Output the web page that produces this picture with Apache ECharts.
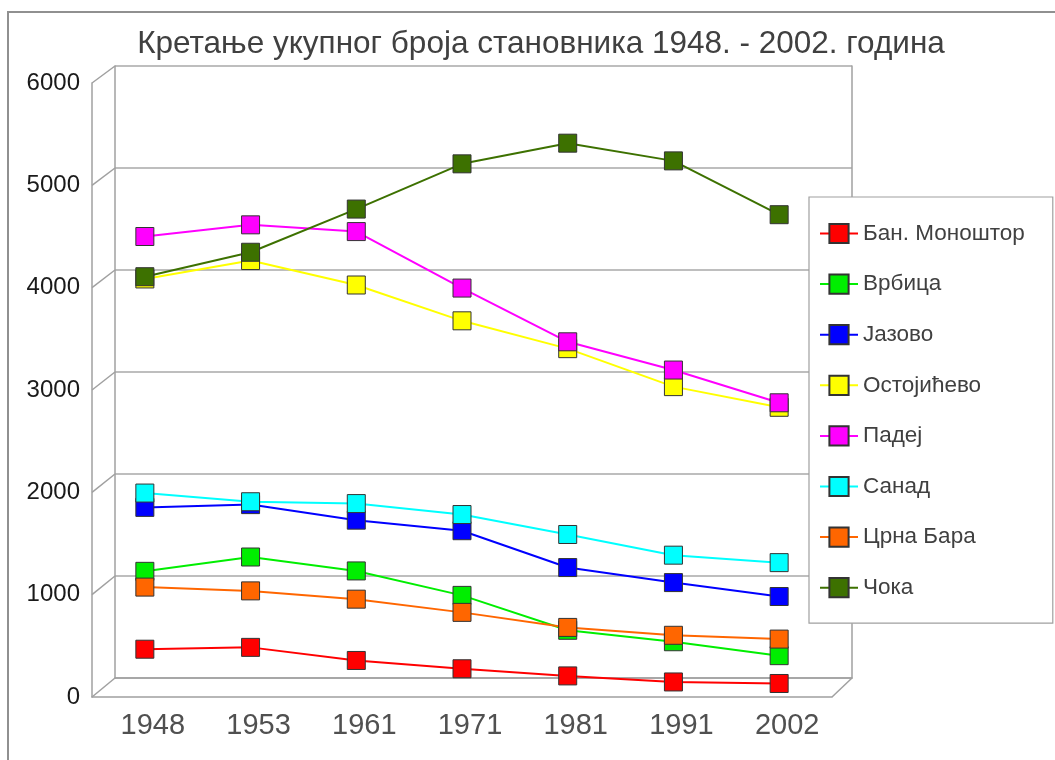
<!DOCTYPE html>
<html><head><meta charset="utf-8">
<script src="https://cdn.jsdelivr.net/npm/echarts@6/dist/echarts.min.js"></script>
<style>html,body{margin:0;padding:0;background:#fff}#c{width:1055px;height:760px}</style>
</head><body><div id="c"></div>
<script>
const titleText = 'Кретање укупног броја становника 1948. - 2002. година';
const years = ['1948','1953','1961','1971','1981','1991','2002'];
const yTicks = [0,1000,2000,3000,4000,5000,6000];
const seriesNames = ['Бан. Моноштор','Врбица','Јазово','Остојићево','Падеј','Санад','Црна Бара','Чока'];
const banMonostor = [467, 485, 357, 276, 206, 147, 132];
const vrbica      = [1228, 1368, 1232, 993, 652, 540, 404];
const jazovo      = [1853, 1880, 1728, 1625, 1265, 1118, 982];
const ostojicevo  = [4085, 4265, 4026, 3676, 3404, 3033, 2831];
const padej       = [4500, 4614, 4548, 3996, 3471, 3195, 2875];
const sanad       = [1993, 1908, 1890, 1783, 1588, 1386, 1313];
const crnaBara    = [1074, 1037, 956, 827, 680, 603, 566];
const coka        = [4107, 4346, 4768, 5210, 5412, 5239, 4713];
const seriesData = [banMonostor, vrbica, jazovo, ostojicevo, padej, sanad, crnaBara, coka];
const colors = ['#ff0000','#00ee00','#0000ff','#ffff00','#ff00ff','#00ffff','#ff6600','#3d7100'];

const front = {left: 92, right: 223, top: 83, bottom: 63};
const back  = {left: 115, right: 203, top: 66, bottom: 82};
const frameColor = '#a0a0a0';
const gridColor = '#a8a8a8';

const chart = echarts.init(document.getElementById('c'), null, {renderer: 'canvas'});
const option = {
  animation: false,
  backgroundColor: '#fff',
  title: {
    text: titleText, left: 536, textAlign: 'center', top: 23,
    textStyle: {fontFamily: 'Liberation Sans', fontSize: 31.5, fontWeight: 'normal', color: '#404040'}
  },
  legend: {
    orient: 'vertical', left: 809, top: 197,
    padding: [25, 28, 24, 10], itemGap: 27.6, itemWidth: 38, itemHeight: 24,
    borderColor: '#a0a0a0', borderWidth: 1.2, backgroundColor: '#fff',
    textStyle: {fontFamily: 'Liberation Sans', fontSize: 22.5, color: '#404040'},
    data: seriesNames
  },
  grid: [
    Object.assign({containLabel: false}, front),
    Object.assign({containLabel: false}, back)
  ],
  xAxis: [
    {gridIndex: 0, type: 'category', data: years, boundaryGap: true,
     axisLine: {show: true, lineStyle: {color: frameColor, width: 1.5}},
     axisTick: {show: false},
     axisLabel: {fontFamily: 'Liberation Sans', fontSize: 29, color: '#505050', margin: 14, padding: [0,0,0,16]},
     splitLine: {show: false}},
    {gridIndex: 1, type: 'category', data: years, boundaryGap: true,
     axisLine: {show: true, lineStyle: {color: frameColor, width: 1.5}},
     axisTick: {show: false}, axisLabel: {show: false}, splitLine: {show: false}}
  ],
  yAxis: [
    {gridIndex: 0, type: 'value', min: 0, max: 6000, interval: 1000,
     axisLine: {show: true, lineStyle: {color: frameColor, width: 1.5}},
     axisTick: {show: false},
     axisLabel: {fontFamily: 'Liberation Sans', fontSize: 24, color: '#1a1a1a', margin: 12,
                 formatter: v => String(v)},
     splitLine: {show: false}},
    {gridIndex: 1, type: 'value', min: 0, max: 6000, interval: 1000,
     axisLine: {show: true, lineStyle: {color: frameColor, width: 1.5}},
     axisTick: {show: false}, axisLabel: {show: false},
     splitLine: {show: true, lineStyle: {color: gridColor, width: 1.5}}},
    {gridIndex: 1, type: 'value', min: 0, max: 6000, interval: 1000, position: 'right',
     axisLine: {show: true, lineStyle: {color: frameColor, width: 1.5}},
     axisTick: {show: false}, axisLabel: {show: false}, splitLine: {show: false}}
  ],
  series: seriesNames.map((name, i) => ({
    name: name, type: 'line', xAxisIndex: 0, yAxisIndex: 0,
    data: seriesData[i], symbol: 'rect', symbolSize: 18,
    lineStyle: {color: colors[i], width: 2},
    itemStyle: {color: colors[i], borderColor: '#333', borderWidth: 1},
    emphasis: {disabled: true}
  }))
};
chart.setOption(option);

// 3D frame: diagonal connectors between front axis and back wall
const gfx = [];
const fLeft = front.left, bLeft = back.left;
const fRight = 1055 - front.right, bRight = 1055 - back.right;
yTicks.forEach(v => {
  const yf = chart.convertToPixel({yAxisIndex: 0}, v);
  const yb = chart.convertToPixel({yAxisIndex: 1}, v);
  gfx.push({type: 'line', shape: {x1: fLeft, y1: yf, x2: bLeft, y2: yb},
            style: {stroke: frameColor, lineWidth: 1.5}, z: 1});
});
const yf0 = chart.convertToPixel({yAxisIndex: 0}, 0);
const yb0 = chart.convertToPixel({yAxisIndex: 1}, 0);
gfx.push({type: 'line', shape: {x1: fRight, y1: yf0, x2: bRight, y2: yb0},
          style: {stroke: frameColor, lineWidth: 1.5}, z: 1});
// outer page frame
gfx.push({type: 'rect', shape: {x: 8, y: 12, width: 1200, height: 900},
          style: {fill: 'none', stroke: '#909090', lineWidth: 2}, z: 0});
chart.setOption({graphic: gfx});
</script></body></html>
